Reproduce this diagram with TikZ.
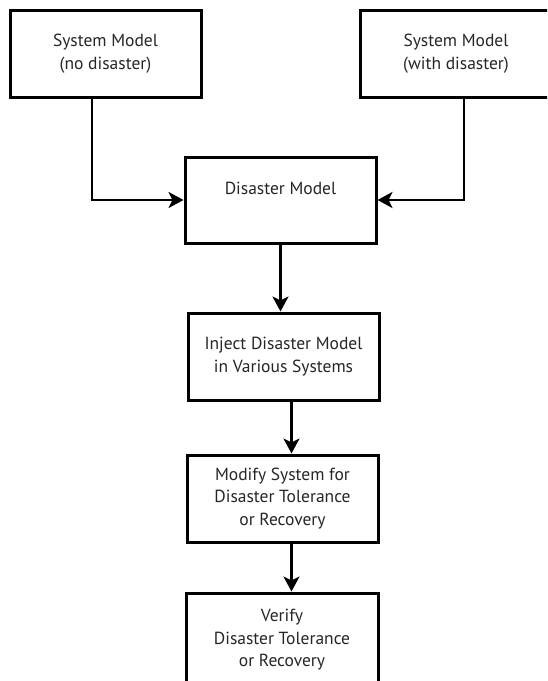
\documentclass[tikz,border=0pt]{standalone}
\usepackage{fontspec}
\setmainfont{PT Sans}
\usetikzlibrary{arrows.meta}
\begin{document}
\begin{tikzpicture}[x=1pt,y=-1pt,
  box/.style={draw=black, line width=3pt, rectangle, minimum width=191pt,
    minimum height=87pt, align=center, inner sep=0pt, text=black!85,
    font=\fontsize{17.5}{22.5}\selectfont},
  arr/.style={line width=2.8pt, -{Stealth[length=15pt,width=16pt,inset=4pt]}}]
\useasboundingbox (0,0) rectangle (547,681);
\clip (0,0) rectangle (547,681);
\fill[white] (0,0) rectangle (547,681);
\node[box] (sn) at (105.5,53.5) {System Model\\(no disaster)};
\node[box, minimum width=192pt] (sw) at (456,53.5) {System Model\\(with disaster)};
\node[box, minimum height=86pt] (dm) at (280.5,200) {Disaster Model\\\mbox{}};
\node[box] (inj) at (283.5,356.5) {Inject Disaster Model\\in Various Systems};
\node[box] (mod) at (282.5,498.5) {Modify System for\\Disaster Tolerance\\or Recovery};
\node[box, minimum width=192pt, minimum height=94pt] (ver) at (282,640) {Verify\\Disaster Tolerance\\or Recovery};
\coordinate (c1) at (92,200);
\coordinate (c2) at (464,200);
\draw[arr] (sn.south -| c1) -- (c1) -- (dm.west);
\draw[arr] (sw.south -| c2) -- (c2) -- (dm.east);
\draw[arr] (dm.south) -- (dm.south |- inj.north);
\draw[arr] ([xshift=8pt]inj.south) -- ([xshift=8pt]inj.south |- mod.north);
\draw[arr] ([xshift=9pt]mod.south) -- ([xshift=9pt]mod.south |- ver.north);
\end{tikzpicture}
\end{document}
